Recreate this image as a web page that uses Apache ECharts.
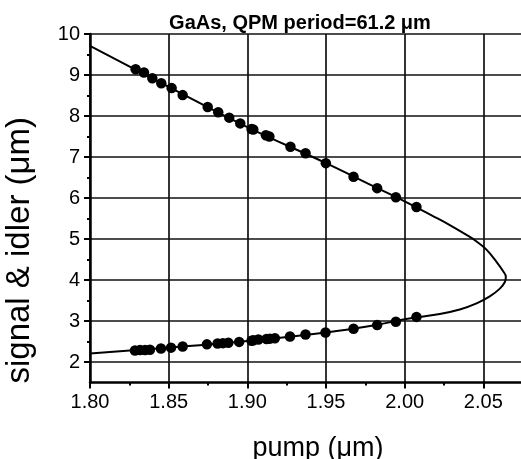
<!DOCTYPE html>
<html>
<head>
<meta charset="utf-8">
<script src="https://cdn.jsdelivr.net/npm/echarts@6/dist/echarts.min.js"></script>
<style>html,body{margin:0;padding:0;background:#fff;}#c{width:521px;height:459px;}</style>
</head>
<body>
<div id="c"></div>
<script>
// Tuning curve
const curveX = [1.80, 1.85, 1.90, 1.95, 1.98, 2.00, 2.018, 2.0287, 2.0393, 2.0457, 2.0520, 2.0584, 2.0625, 2.0643, 2.0637, 2.0605, 2.0541, 2.0457, 2.0350, 2.0223, 2.00, 1.98, 1.95, 1.90, 1.85, 1.80];
const curveY = [9.71, 8.71, 7.73, 6.85, 6.29, 5.92, 5.56, 5.34, 5.10, 4.94, 4.74, 4.44, 4.22, 4.08, 3.95, 3.79, 3.60, 3.43, 3.28, 3.17, 3.04, 2.89, 2.72, 2.51, 2.35, 2.21];
// Measured idler (upper branch)
const upperX = [1.829, 1.8343, 1.8396, 1.8453, 1.8519, 1.8589, 1.8748, 1.8815, 1.8885, 1.8955, 1.9027, 1.9038, 1.9118, 1.9140, 1.9274, 1.9370, 1.9499, 1.9675, 1.9825, 1.9944, 2.0075];
const upperY = [9.14, 9.06, 8.92, 8.80, 8.68, 8.51, 8.22, 8.09, 7.96, 7.82, 7.68, 7.67, 7.53, 7.50, 7.25, 7.09, 6.85, 6.52, 6.24, 6.02, 5.78];
// Measured signal (lower branch)
const lowerX = [1.8286, 1.8318, 1.8350, 1.8381, 1.8451, 1.8515, 1.8589, 1.8743, 1.8811, 1.8845, 1.8879, 1.8948, 1.9027, 1.9038, 1.9070, 1.9122, 1.9144, 1.9175, 1.9271, 1.9370, 1.9497, 1.9675, 1.9825, 1.9944, 2.0075];
const lowerY = [2.28, 2.29, 2.29, 2.30, 2.33, 2.35, 2.38, 2.43, 2.45, 2.46, 2.47, 2.49, 2.52, 2.53, 2.55, 2.56, 2.57, 2.58, 2.62, 2.67, 2.72, 2.81, 2.90, 2.98, 3.10];
// Axis setup
const xMin = 1.80, xMax = 2.10, xStep = 0.05;
const yMin = 1.5, yMax = 10, yTickMin = 2, yStep = 1;
const titleText = 'GaAs, QPM period=61.2 \u03bcm';
const xName = 'pump (\u03bcm)';
const yName = 'signal & idler (\u03bcm)';

const zip = (a, b) => a.map((v, i) => [v, b[i]]);
const FONT = 'Liberation Sans, Arial, Helvetica, sans-serif';

const chart = echarts.init(document.getElementById('c'), null, {renderer: 'canvas'});
chart.setOption({
  animation: false,
  backgroundColor: '#fff',
  title: {
    text: titleText, left: 295, top: 8, textAlign: 'center',
    textStyle: {fontFamily: FONT, fontSize: 20, fontWeight: 'bold', color: '#000'}
  },
  grid: [
    {left: 90, top: 34, width: 472, height: 348.5, containLabel: false, outerBoundsMode: 'none'},
    {left: 90, top: 34, width: 472, height: 328, containLabel: false, outerBoundsMode: 'none'}
  ],
  xAxis: [
    {
      type: 'value', gridIndex: 0, min: xMin, max: xMax, interval: xStep,
      name: xName, nameLocation: 'middle', nameGap: 53,
      nameTextStyle: {fontFamily: FONT, fontSize: 27, color: '#000', padding: [0, 16, 0, 0]},
      axisLine: {show: true, lineStyle: {color: '#000', width: 2.5}},
      axisTick: {show: true, length: 6, lineStyle: {color: '#000', width: 2}},
      minorTick: {show: true, splitNumber: 2, length: 3, lineStyle: {color: '#000', width: 2}},
      axisLabel: {fontFamily: FONT, fontSize: 20, color: '#000', margin: 10,
        formatter: v => v.toFixed(2)},
      splitLine: {show: true, lineStyle: {color: '#111', width: 1.7}}
    },
    {type: 'value', gridIndex: 1, min: xMin, max: xMax, show: false}
  ],
  yAxis: [
    {
      type: 'value', gridIndex: 0, min: yMin, max: yMax,
      name: yName, nameLocation: 'middle', nameGap: 54,
      nameTextStyle: {fontFamily: FONT, fontSize: 33, color: '#000', padding: [0, 84, 0, 0]},
      axisLine: {show: true, lineStyle: {color: '#000', width: 2.5}},
      axisTick: {show: false}, axisLabel: {show: false}, splitLine: {show: false}
    },
    {
      type: 'value', gridIndex: 1, min: yTickMin, max: yMax, interval: yStep,
      axisLine: {show: false},
      axisTick: {show: true, length: 6, lineStyle: {color: '#000', width: 2}},
      minorTick: {show: true, splitNumber: 2, length: 3, lineStyle: {color: '#000', width: 2}},
      axisLabel: {fontFamily: FONT, fontSize: 20, color: '#000', margin: 10},
      splitLine: {show: true, lineStyle: {color: '#111', width: 1.7}}
    }
  ],
  series: [
    {
      type: 'line', xAxisIndex: 0, yAxisIndex: 0, data: zip(curveX, curveY),
      smooth: 0.4, showSymbol: false, symbol: 'none',
      lineStyle: {color: '#000', width: 2}, z: 3
    },
    {
      type: 'scatter', xAxisIndex: 0, yAxisIndex: 0, data: zip(upperX, upperY),
      symbol: 'circle', symbolSize: 10.5, itemStyle: {color: '#000', opacity: 1}, z: 4
    },
    {
      type: 'scatter', xAxisIndex: 0, yAxisIndex: 0, data: zip(lowerX, lowerY),
      symbol: 'circle', symbolSize: 10.5, itemStyle: {color: '#000', opacity: 1}, z: 4
    }
  ]
});
</script>
</body>
</html>
